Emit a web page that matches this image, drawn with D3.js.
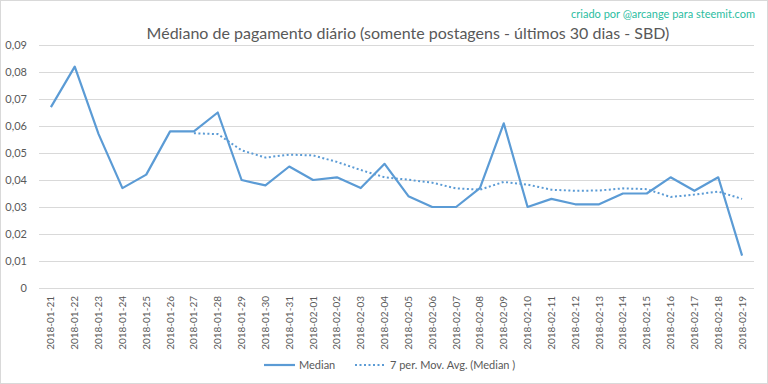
<!DOCTYPE html>
<html>
<head>
<meta charset="utf-8">
<script src="https://cdn.jsdelivr.net/npm/d3@7"></script>
<style>
  body { margin: 0; background: #fff; }
  svg { display: block; }
</style>
</head>
<body>
<svg id="chart" width="768" height="384"></svg>
<script>
// data
var dates = ['2018-01-21', '2018-01-22', '2018-01-23', '2018-01-24', '2018-01-25', '2018-01-26',
    '2018-01-27', '2018-01-28', '2018-01-29', '2018-01-30', '2018-01-31', '2018-02-01',
    '2018-02-02', '2018-02-03', '2018-02-04', '2018-02-05', '2018-02-06', '2018-02-07',
    '2018-02-08', '2018-02-09', '2018-02-10', '2018-02-11', '2018-02-12', '2018-02-13',
    '2018-02-14', '2018-02-15', '2018-02-16', '2018-02-17', '2018-02-18', '2018-02-19'];
var median = [0.067, 0.082, 0.057, 0.037, 0.042, 0.058, 0.058, 0.065, 0.040, 0.038,
    0.045, 0.040, 0.041, 0.037, 0.046, 0.034, 0.030, 0.030, 0.037, 0.061,
    0.030, 0.033, 0.031, 0.031, 0.035, 0.035, 0.041, 0.036, 0.041, 0.012];
// moving average, empty for the first six days
var movAvg = [null, null, null, null, null, null, 0.0573, 0.0570, 0.0510, 0.0483,
    0.0494, 0.0491, 0.0467, 0.0437, 0.0410, 0.0401, 0.0390, 0.0369, 0.0364, 0.0393,
    0.0383, 0.0364, 0.0360, 0.0361, 0.0369, 0.0366, 0.0337, 0.0346, 0.0357, 0.0330];
var yTicks = [0, 0.01, 0.02, 0.03, 0.04, 0.05, 0.06, 0.07, 0.08, 0.09];

var blue = '#5b9bd5';
var grey = '#595959';
var font = 'Lato, "Open Sans", sans-serif';

var svg = d3.select('#chart');
var plotLeft = 39, plotRight = 754, plotTop = 45, plotBottom = 288;

svg.append('rect')
    .attr('x', 0.5).attr('y', 0.5)
    .attr('width', 767).attr('height', 383)
    .attr('fill', '#fff')
    .attr('stroke', '#d9d9d9');

var x = d3.scaleBand().domain(dates).range([plotLeft, plotRight]);
var y = d3.scaleLinear().domain([0, 0.09]).range([plotBottom, plotTop]);
var fmt = function(d) { return d === 0 ? '0' : d3.format('.2f')(d).replace('.', ','); };

// gridlines + y labels
var yAxis = svg.append('g')
    .attr('transform', 'translate(' + plotLeft + ',0)')
    .call(d3.axisLeft(y).tickValues(yTicks).tickSize(-(plotRight - plotLeft)).tickPadding(12).tickFormat(fmt));
yAxis.select('.domain').remove();
yAxis.selectAll('line').attr('stroke', '#d9d9d9');
yAxis.selectAll('text').attr('fill', grey).style('font-family', font).style('font-size', '11px');

// x labels
var xAxis = svg.append('g')
    .attr('transform', 'translate(0,' + plotBottom + ')')
    .call(d3.axisBottom(x).tickSize(0).tickPadding(0));
xAxis.select('.domain').remove();
xAxis.selectAll('text')
    .attr('fill', grey)
    .style('font-family', font).style('font-size', '10px')
    .attr('text-anchor', 'end')
    .attr('dy', '0.35em')
    .attr('transform', 'translate(0,8) rotate(-90)')
    .attr('x', 0).attr('y', 0);

var cx = function(d, i) { return x(dates[i]) + x.bandwidth() / 2; };

var medLine = d3.line().x(cx).y(function(d) { return y(d); });
svg.append('path')
    .datum(median)
    .attr('d', medLine)
    .attr('fill', 'none')
    .attr('stroke', blue)
    .attr('stroke-width', 2.2)
    .attr('stroke-linejoin', 'round');

var avgLine = d3.line().defined(function(d) { return d !== null; }).x(cx).y(function(d) { return y(d); });
svg.append('path')
    .datum(movAvg)
    .attr('d', avgLine)
    .attr('fill', 'none')
    .attr('stroke', blue)
    .attr('stroke-width', 2)
    .attr('stroke-dasharray', '2,2.5');

// title and credit
svg.append('text')
    .attr('x', 408).attr('y', 39)
    .attr('text-anchor', 'middle')
    .attr('fill', grey)
    .style('font-family', font).style('font-size', '16px')
    .text('Médiano de pagamento diário (somente postagens - últimos 30 dias - SBD)');

svg.append('text')
    .attr('x', 755).attr('y', 18)
    .attr('text-anchor', 'end')
    .attr('fill', '#2bbd9f')
    .style('font-family', font).style('font-size', '11px')
    .text('criado por @arcange para steemit.com');

// legend
var lg = svg.append('g').style('font-family', font).style('font-size', '11px');
lg.append('line').attr('x1', 264).attr('x2', 295).attr('y1', 365).attr('y2', 365)
    .attr('stroke', blue).attr('stroke-width', 2.2);
lg.append('text').attr('x', 299).attr('y', 369).attr('fill', grey).text('Median');
lg.append('line').attr('x1', 355).attr('x2', 386).attr('y1', 365).attr('y2', 365)
    .attr('stroke', blue).attr('stroke-width', 2).attr('stroke-dasharray', '2,2.5');
lg.append('text').attr('x', 390).attr('y', 369).attr('fill', grey).text('7 per. Mov. Avg. (Median )');
</script>
</body>
</html>
